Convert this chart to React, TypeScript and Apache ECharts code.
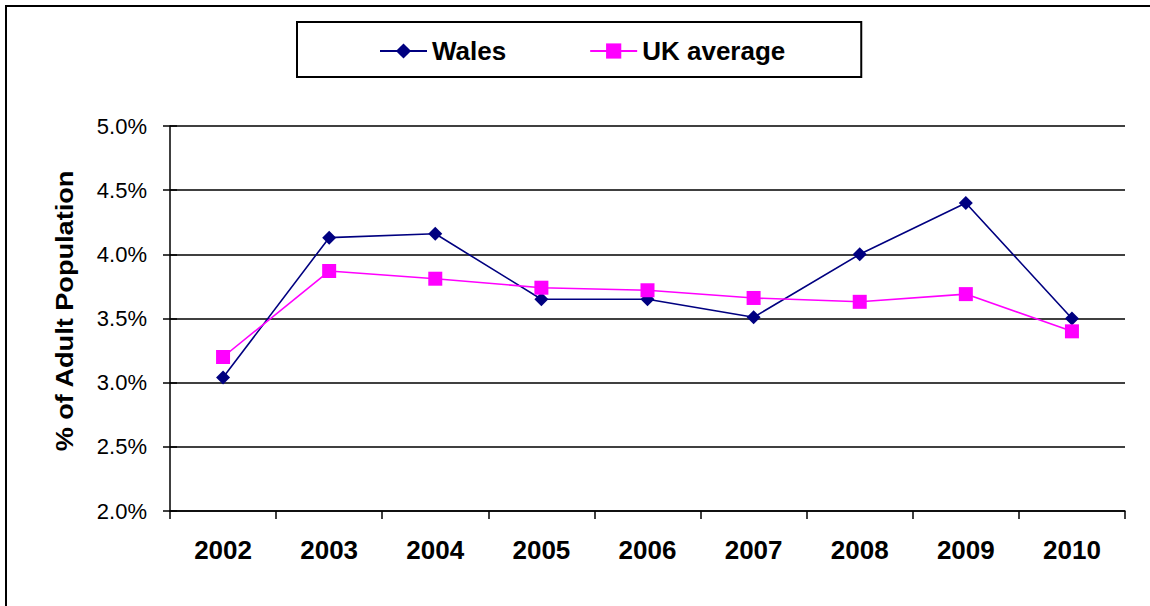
import React, { useEffect, useRef } from "react";
import * as echarts from "echarts";

// Share of adult population, per year (percent)
const years = ["2002", "2003", "2004", "2005", "2006", "2007", "2008", "2009", "2010"];
const walesValues = [3.04, 4.13, 4.16, 3.65, 3.65, 3.51, 4.0, 4.4, 3.5];
const ukAverageValues = [3.2, 3.87, 3.81, 3.74, 3.72, 3.66, 3.63, 3.69, 3.4];

const yMin = 2.0;
const yMax = 5.0;
const yStep = 0.5;

const FONT = '"Liberation Sans", Arial, Helvetica, sans-serif';

export default function App() {
  const ref = useRef<HTMLDivElement>(null);

  useEffect(() => {
    if (!ref.current) return;
    const chart = echarts.init(ref.current, undefined, { renderer: "svg" });

    const valueAxisBase = {
      type: "value" as const,
      min: yMin,
      max: yMax,
      interval: yStep,
      position: "left" as const,
    };

    chart.setOption({
      animation: false,
      backgroundColor: "#ffffff",
      textStyle: { fontFamily: FONT },
      grid: { left: 170, right: 25, top: 126, bottom: 95, containLabel: false },
      legend: {
        left: 297,
        top: 22,
        orient: "horizontal",
        padding: [16, 76, 13, 82],
        itemGap: 83,
        itemWidth: 47,
        itemHeight: 19,
        borderColor: "#000",
        borderWidth: 2,
        borderRadius: 0,
        backgroundColor: "#fff",
        textStyle: {
          fontFamily: FONT,
          fontSize: 26,
          fontWeight: "bold",
          color: "#000",
          lineHeight: 26,
        },
        data: ["Wales", "UK average"],
      },
      xAxis: {
        type: "category",
        data: years,
        boundaryGap: true,
        axisLine: { show: true, lineStyle: { color: "#000", width: 1.5 } },
        axisTick: { show: true, inside: false, length: 8, lineStyle: { color: "#000", width: 1.5 } },
        axisLabel: {
          margin: 26,
          fontFamily: FONT,
          fontSize: 26,
          fontWeight: "bold",
          color: "#000",
          lineHeight: 26,
        },
        splitLine: { show: false },
      },
      yAxis: [
        {
          ...valueAxisBase,
          axisLine: { show: true, lineStyle: { color: "#000", width: 1.5 } },
          axisTick: { show: true, inside: false, length: 7, lineStyle: { color: "#000", width: 1.5 } },
          axisLabel: {
            margin: 23,
            fontFamily: FONT,
            fontSize: 22,
            color: "#000",
            formatter: (v: number) => v.toFixed(1) + "%",
          },
          splitLine: { show: true, lineStyle: { color: "#000", width: 1.5 } },
        },
        {
          // second copy of the scale, only for the inner half of the cross ticks
          ...valueAxisBase,
          axisLine: { show: false },
          axisTick: { show: true, inside: true, length: 7, lineStyle: { color: "#000", width: 1.5 } },
          axisLabel: { show: false },
          splitLine: { show: false },
        },
      ],
      graphic: [
        {
          type: "rect",
          silent: true,
          z: -10,
          shape: { x: 6, y: 6, width: 1200, height: 700 },
          style: { fill: "none", stroke: "#000", lineWidth: 2 },
        },
        {
          type: "text",
          silent: true,
          x: 65,
          y: 311,
          rotation: Math.PI / 2,
          scaleX: 1.18,
          style: {
            text: "% of Adult Population",
            font: 'bold 23px "Liberation Sans", Arial, sans-serif',
            fill: "#000",
            align: "center",
            verticalAlign: "middle",
            textAlign: "center",
            textVerticalAlign: "middle",
          },
        },
      ],
      series: [
        {
          name: "Wales",
          type: "line",
          yAxisIndex: 0,
          data: walesValues,
          symbol: "diamond",
          symbolSize: 14,
          showAllSymbol: true,
          color: "#000080",
          lineStyle: { color: "#000080", width: 1.6 },
          itemStyle: { color: "#000080" },
        },
        {
          name: "UK average",
          type: "line",
          yAxisIndex: 0,
          data: ukAverageValues,
          symbol: "rect",
          symbolSize: 14,
          showAllSymbol: true,
          color: "#ff00ff",
          lineStyle: { color: "#ff00ff", width: 1.6 },
          itemStyle: { color: "#ff00ff" },
        },
      ],
    });

    return () => chart.dispose();
  }, []);

  return (
    <div
      ref={ref}
      style={{ position: "fixed", left: 0, top: 0, width: 1150, height: 606, background: "#fff" }}
    />
  );
}
